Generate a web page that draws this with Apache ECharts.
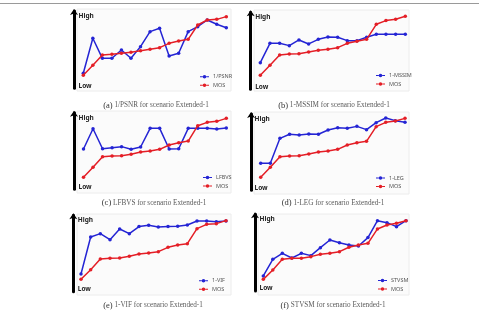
<!DOCTYPE html>
<html>
<head>
<meta charset="utf-8">
<script src="https://cdn.jsdelivr.net/npm/echarts@6/dist/echarts.min.js"></script>
<style>
  html, body { margin: 0; padding: 0; background: #fff; }
  #chart { width: 479px; height: 312px; }
</style>
</head>
<body>
<div id="chart"></div>
<script>
// 16 test conditions, values on a relative Low(0) .. High(100) scale
var steps = [1, 2, 3, 4, 5, 6, 7, 8, 9, 10, 11, 12, 13, 14, 15, 16]
var tickLabels = ['Low', 'High']
var metricNames = ['1/PSNR', '1-MSSIM', 'LFBVS', '1-LEG', '1-VIF', 'STVSM']
var captionTags = ['(a)', '(b)', '(c)', '(d)', '(e)', '(f)']
var captionText = ' for scenario Extended-1'

var psnr = [19.4, 64.7, 38.8, 38.8, 49.6, 38.8, 53.9, 73.3, 77.6, 41.8, 45.3, 73.3, 79.7, 88.4, 82.8, 78.4]
var mosA = [16.8, 29.7, 43.1, 44.0, 45.3, 46.6, 48.7, 50.4, 52.6, 58.2, 61.2, 63.4, 81.9, 88.4, 89.2, 92.7]
var mssim = [34.6, 59.7, 59.7, 56.7, 64.1, 58.9, 64.9, 68.0, 67.5, 63.2, 63.2, 67.5, 71.4, 71.4, 71.4, 71.4]
var mosB = [18.2, 31.2, 44.6, 45.9, 46.3, 48.5, 50.6, 51.9, 54.1, 59.7, 62.3, 64.9, 84.4, 89.2, 90.9, 94.8]
var lfbvs = [52.6, 79.1, 53.0, 54.3, 55.7, 52.2, 55.2, 79.6, 79.6, 52.6, 53.0, 79.6, 79.6, 79.6, 78.7, 80.0]
var mosC = [15.7, 28.7, 42.6, 43.5, 43.9, 45.7, 48.7, 50.0, 52.2, 57.8, 60.9, 63.0, 83.0, 87.4, 88.7, 92.6]
var leg = [35.4, 35.4, 68.1, 73.4, 72.5, 73.8, 73.4, 79.0, 82.1, 81.2, 83.8, 79.5, 88.6, 94.8, 91.3, 89.1]
var mosD = [17.0, 30.1, 44.1, 45.0, 45.4, 47.6, 50.2, 51.5, 53.7, 59.4, 62.4, 64.2, 83.4, 89.1, 90.8, 94.3]
var vif = [23.1, 71.6, 76.0, 68.1, 82.1, 76.0, 85.2, 86.9, 84.7, 85.2, 85.6, 87.3, 92.6, 92.6, 91.7, 92.6]
var mosE = [16.2, 28.8, 42.8, 43.7, 44.1, 46.3, 49.3, 50.7, 52.4, 58.1, 61.1, 62.9, 82.5, 88.2, 89.1, 93.0]
var stvsm = [19.6, 41.3, 49.1, 43.0, 49.1, 46.1, 56.5, 66.5, 63.0, 60.0, 58.7, 69.6, 91.7, 89.1, 83.9, 91.7]
var mosF = [15.2, 27.4, 41.3, 42.6, 42.6, 44.8, 47.8, 49.1, 51.3, 57.0, 60.0, 62.2, 80.9, 86.1, 88.3, 91.7]

var metricValues = [psnr, mssim, lfbvs, leg, vif, stvsm]
var mosValues = [mosA, mosB, mosC, mosD, mosE, mosF]

// pixel layout of each small panel
var layout = [
  { ax: 74, first: 83.3, last: 226.3, right: 231, top: 11, bottom: 88.3, box: [77, 9, 231, 91], legX: 195, legY: 72, capX: 156, capY: 105.5 },
  { ax: 250.7, first: 260.3, last: 405.3, right: 409, top: 12.3, bottom: 89.3, box: [254, 10, 409, 91], legX: 371, legY: 70.7, capX: 334, capY: 105.5 },
  { ax: 74, first: 83.5, last: 226.3, right: 231, top: 112.7, bottom: 189.3, box: [77, 111, 231, 193], legX: 198, legY: 172.7, capX: 154, capY: 203 },
  { ax: 250, first: 260.7, last: 405, right: 409, top: 114, bottom: 190.3, box: [254, 112, 409, 194], legX: 371, legY: 173.3, capX: 333, capY: 203 },
  { ax: 73.3, first: 81, last: 226, right: 231, top: 215.3, bottom: 291.7, box: [77, 214, 231, 295], legX: 194, legY: 276, capX: 153, capY: 305.5 },
  { ax: 255, first: 263.3, last: 406, right: 409, top: 214.3, bottom: 291, box: [258, 214, 409, 295], legX: 373, legY: 275.7, capX: 333, capY: 305.5 }
]

var BLUE = '#2424d4'
var RED = '#e41e26'
// legend icon: short line with a dot in the middle (pieces don't overlap, so no holes)
var LINE_DOT = 'path://M0,2H2.7V3H0Z M6.3,2H9V3H6.3Z M2.7,2.5a1.8,1.8 0 1 0 3.6,0a1.8,1.8 0 1 0 -3.6,0Z'

var grids = [], xAxes = [], yAxes = [], series = [], legends = [], graphics = []

graphics.push({
  type: 'line', shape: { x1: 0, y1: 3.5, x2: 479, y2: 3.5 },
  style: { stroke: '#9a9a9a', lineWidth: 1 }, z: 0
})

layout.forEach(function (p, i) {
  var step = (p.last - p.first) / (steps.length - 1)
  grids.push({ left: p.ax, top: p.top, width: p.right - p.ax, height: p.bottom - p.top })
  xAxes.push({
    type: 'value', gridIndex: i, show: false,
    min: 1 - (p.first - p.ax) / step,
    max: steps.length + (p.right - p.last) / step
  })
  yAxes.push({
    type: 'value', gridIndex: i, min: 0, max: 100,
    axisLine: {
      show: true, symbol: ['none', 'arrow'], symbolSize: [6, 6], symbolOffset: [0, 2],
      lineStyle: { color: '#000', width: 3 }
    },
    axisTick: { show: false }, axisLabel: { show: false }, splitLine: { show: false }
  })
  series.push({
    name: metricNames[i], type: 'line', xAxisIndex: i, yAxisIndex: i,
    data: steps.map(function (s, k) { return [s, metricValues[i][k]] }),
    symbol: 'circle', symbolSize: 3.5, color: BLUE,
    lineStyle: { width: 1.5, color: BLUE }, itemStyle: { color: BLUE },
    animation: false, z: 3
  })
  series.push({
    name: 'MOS', type: 'line', xAxisIndex: i, yAxisIndex: i,
    data: steps.map(function (s, k) { return [s, mosValues[i][k]] }),
    symbol: 'circle', symbolSize: 3.5, color: RED,
    lineStyle: { width: 1.5, color: RED }, itemStyle: { color: RED },
    animation: false, z: 4
  })
  legends.push({
    data: [metricNames[i], 'MOS'], orient: 'vertical',
    left: p.legX, top: p.legY - 3.5,
    icon: LINE_DOT, itemWidth: 9, itemHeight: 3.6, itemGap: 2, selectedMode: false,
    itemStyle: { borderWidth: 0 },
    textStyle: { fontSize: 5.5, color: '#555', fontFamily: 'Noto Sans', lineHeight: 6.5, padding: [0, 0, 0, -1] }
  })
  // faint plot box
  graphics.push({
    type: 'rect', shape: { x: p.box[0], y: p.box[1], width: p.box[2] - p.box[0], height: p.box[3] - p.box[1] },
    style: { fill: '#fbfbfb', stroke: '#ececec', lineWidth: 1 }, z: -10
  })
  graphics.push({
    type: 'text', x: p.ax + 4.5, y: p.top + 5, z: 10,
    style: { text: tickLabels[1], font: 'bold 6.5px "Noto Sans"', fill: '#222', verticalAlign: 'middle' }
  })
  graphics.push({
    type: 'text', x: p.ax + 4.5, y: p.bottom - 2.6, z: 10,
    style: { text: tickLabels[0], font: 'bold 6.5px "Noto Sans"', fill: '#222', verticalAlign: 'middle' }
  })
  graphics.push({
    type: 'text', x: p.capX, y: p.capY, z: 10,
    style: {
      text: '{t|' + captionTags[i] + '}{b| ' + metricNames[i] + captionText + '}',
      align: 'center', verticalAlign: 'middle',
      rich: {
        t: { fontFamily: 'Liberation Serif', fontSize: 8.5, fill: '#333' },
        b: { fontFamily: 'Liberation Serif', fontSize: 7.2, fill: '#5a5a5a' }
      }
    }
  })
})

var chart = echarts.init(document.getElementById('chart'))
chart.setOption({
  animation: false,
  grid: grids,
  xAxis: xAxes,
  yAxis: yAxes,
  legend: legends,
  series: series,
  graphic: graphics
})
</script>
</body>
</html>
